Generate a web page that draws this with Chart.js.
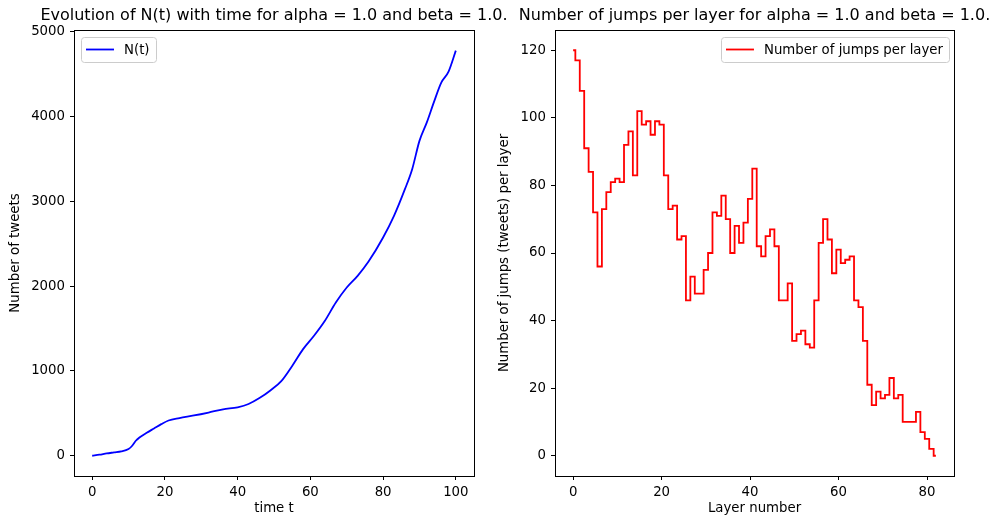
<!DOCTYPE html>
<html>
<head>
<meta charset="utf-8">
<title>N(t) and jumps per layer</title>
<script src="https://cdn.jsdelivr.net/npm/chart.js@4.4.1/dist/chart.umd.min.js"></script>
<style>
    body { margin: 0; background: #fff; }
    #wrap { position: relative; width: 995px; height: 519px; }
    canvas { position: absolute; top: 0; }
</style>
</head>
<body>
<div id="wrap">
    <canvas id="graf-jumps" width="498" height="519" style="left:497px"></canvas>
    <canvas id="graf-n" width="540" height="519" style="left:0"></canvas>
</div>
<script>
// N(t)
const casT = [0, 2, 4, 6, 8, 10, 11, 12, 13, 15, 17, 19, 21, 24, 28, 32, 36, 40, 43, 46,
    49, 52, 55, 58, 61, 64, 67, 70, 73, 76, 80, 83, 86, 88, 90, 92, 94, 96, 98, 100];
const pocetN = [0, 12, 27, 39, 51, 79, 118, 177, 216, 271, 322, 373, 416, 444, 475, 510, 548, 572, 610, 680,
    770, 880, 1060, 1258, 1415, 1592, 1808, 1985, 2123, 2291, 2575, 2830, 3145, 3381, 3715, 3930, 4175, 4402, 4532, 4780];

// number of jumps per layer (layers 0..82)
const vrstvy = [0, 1, 2, 3, 4, 5, 6, 7, 8, 9, 10, 11, 12, 13, 14, 15, 16, 17, 18, 19,
    20, 21, 22, 23, 24, 25, 26, 27, 28, 29, 30, 31, 32, 33, 34, 35, 36, 37, 38, 39,
    40, 41, 42, 43, 44, 45, 46, 47, 48, 49, 50, 51, 52, 53, 54, 55, 56, 57, 58, 59,
    60, 61, 62, 63, 64, 65, 66, 67, 68, 69, 70, 71, 72, 73, 74, 75, 76, 77, 78, 79,
    80, 81, 82];
const skoky = [120, 117, 108, 91, 84, 72, 56, 73, 78, 81, 82, 81, 92, 96, 83, 102, 98, 99, 95, 99,
    98, 83, 73, 74, 64, 65, 46, 53, 48, 48, 55, 60, 72, 71, 77, 70, 60, 68, 63, 69,
    76, 85, 62, 59, 65, 67, 62, 46, 46, 51, 34, 36, 37, 33, 32, 46, 63, 70, 64, 54,
    61, 57, 58, 59, 46, 44, 34, 21, 15, 19, 17, 18, 23, 17, 18, 10, 10, 10, 13, 7,
    5, 2, 0];

// tick labels
const tickyT = [0, 20, 40, 60, 80, 100];
const tickyN = [0, 1000, 2000, 3000, 4000, 5000];
const tickyVrstvy = [0, 20, 40, 60, 80];
const tickySkoky = [0, 20, 40, 60, 80, 100, 120];

const titulky = [
    'Evolution of N(t) with time for alpha = 1.0 and beta = 1.0.',
    'Number of jumps per layer for alpha = 1.0 and beta = 1.0.'
];

const pismo = 13.3;
Chart.defaults.font.family = '"DejaVu Sans", sans-serif';
Chart.defaults.font.size = pismo;
Chart.defaults.color = '#000';

// frame, title above the axes and a matplotlib-like legend box
const ramecek = {
    id: 'ramecek',
    afterDraw(chart, args, opts) {
        const {ctx, chartArea: a} = chart;
        ctx.save();
        ctx.strokeStyle = '#000';
        ctx.lineWidth = 1;
        const l = Math.floor(a.left) + 0.5, t = Math.floor(a.top) + 0.5;
        ctx.strokeRect(l, t, Math.round(a.right - a.left), Math.round(a.bottom - a.top));

        ctx.font = '16px "DejaVu Sans"';
        ctx.fillStyle = '#000';
        ctx.textAlign = 'center';
        ctx.textBaseline = 'middle';
        ctx.fillText(opts.title, (a.left + a.right) / 2, 16);

        const ds = chart.data.datasets[0];
        ctx.font = pismo + 'px "DejaVu Sans"';
        const tw = ctx.measureText(ds.label).width;
        const w = 5 + 28 + 10 + tw + 6;
        const h = 25;
        const x = opts.align === 'right' ? a.right - 5 - w : a.left + 7;
        const y = a.top + 7;
        ctx.beginPath();
        ctx.roundRect(Math.round(x) + 0.5, Math.round(y) + 0.5, Math.round(w), h, 3);
        ctx.fillStyle = 'rgba(255,255,255,0.8)';
        ctx.fill();
        ctx.strokeStyle = '#ccc';
        ctx.stroke();
        ctx.beginPath();
        ctx.moveTo(x + 5, y + h / 2);
        ctx.lineTo(x + 33, y + h / 2);
        ctx.strokeStyle = ds.borderColor;
        ctx.lineWidth = ds.borderWidth;
        ctx.stroke();
        ctx.fillStyle = '#000';
        ctx.textAlign = 'left';
        ctx.fillText(ds.label, x + 43, y + h / 2 + 1);
        ctx.restore();
    }
};

function osa(min, max, ticky, nazev, odsazeni, extra) {
    return Object.assign({
        type: 'linear',
        min: min,
        max: max,
        border: { display: false },
        grid: { drawOnChartArea: false, drawTicks: true, tickLength: 4, tickColor: '#000' },
        ticks: { padding: 5, maxRotation: 0, autoSkip: false, callback: v => String(v) },
        title: { display: true, text: nazev, color: '#000', padding: odsazeni, font: { size: pismo } },
        afterBuildTicks: scale => { scale.ticks = ticky.map(v => ({ value: v })); }
    }, extra);
}

new Chart(document.getElementById('graf-n').getContext('2d'), {
    type: 'line',
    data: {
        datasets: [{
            label: 'N(t)',
            data: casT.map((t, i) => ({ x: t, y: pocetN[i] })),
            borderColor: '#0000ff',
            borderWidth: 1.8,
            pointRadius: 0,
            cubicInterpolationMode: 'monotone',
            fill: false
        }]
    },
    options: {
        responsive: false,
        animation: false,
        layout: { padding: { left: 0, right: 66, top: 30, bottom: 0 } },
        plugins: {
            legend: { display: false },
            tooltip: { enabled: false },
            ramecek: { title: titulky[0], align: 'left' }
        },
        scales: {
            x: osa(-5, 105, tickyT, 'time t', 2, {
                afterFit: s => { s.height = 43; }
            }),
            y: osa(-239, 5023, tickyN, 'Number of tweets', 8, {
                afterFit: s => { s.width = 74; }
            })
        }
    },
    plugins: [ramecek]
});

new Chart(document.getElementById('graf-jumps').getContext('2d'), {
    type: 'line',
    data: {
        datasets: [{
            label: 'Number of jumps per layer',
            data: vrstvy.map((v, i) => ({ x: v, y: skoky[i] })),
            borderColor: '#ff0000',
            borderWidth: 1.8,
            pointRadius: 0,
            stepped: 'middle',
            fill: false
        }]
    },
    options: {
        responsive: false,
        animation: false,
        layout: { padding: { left: 0, right: 41, top: 30, bottom: 0 } },
        plugins: {
            legend: { display: false },
            tooltip: { enabled: false },
            ramecek: { title: titulky[1], align: 'right' }
        },
        scales: {
            x: osa(-4.1, 86.1, tickyVrstvy, 'Layer number', 2, {
                afterFit: s => { s.height = 43; }
            }),
            y: osa(-6, 126, tickySkoky, 'Number of jumps (tweets) per layer', 0, {
                afterFit: s => { s.width = 58; }
            })
        }
    },
    plugins: [ramecek]
});
</script>
</body>
</html>
